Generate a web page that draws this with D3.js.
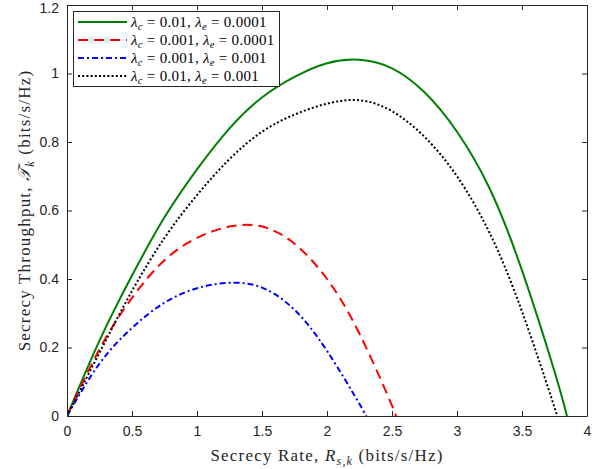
<!DOCTYPE html>
<html>
<head>
<meta charset="utf-8">
<script src="https://cdn.jsdelivr.net/npm/d3@7"></script>
<style>
  html, body { margin: 0; padding: 0; background: #fff; }
  svg { display: block; }
</style>
</head>
<body>
<svg id="chart" width="605" height="469"></svg>
<script>
// Secrecy rate R_{s,k} (bits/s/Hz) and secrecy throughput T_k for each setting
const rateA = [0, 0.25, 0.5, 0.75, 1.0, 1.25, 1.5, 1.75, 2.0, 2.25, 2.5, 2.75, 3.0, 3.25, 3.5, 3.75, 3.846];
const thrA  = [0, 0.22, 0.41, 0.58, 0.72, 0.84, 0.93, 0.99, 1.03, 1.04, 1.015, 0.945, 0.83, 0.665, 0.425, 0.13, 0];

const rateB = [0, 0.25, 0.5, 0.75, 1.0, 1.25, 1.5, 1.75, 2.0, 2.25, 2.5, 2.52];
const thrB  = [0, 0.195, 0.345, 0.455, 0.52, 0.553, 0.553, 0.503, 0.40, 0.24, 0.03, 0];

const rateC = [0, 0.25, 0.5, 0.75, 1.0, 1.25, 1.5, 1.75, 2.0, 2.25, 2.30];
const thrC  = [0, 0.153, 0.257, 0.331, 0.373, 0.389, 0.375, 0.31, 0.19, 0.035, 0];

const rateD = [0, 0.25, 0.5, 0.75, 1.0, 1.25, 1.5, 1.75, 2.0, 2.25, 2.5, 2.75, 3.0, 3.25, 3.5, 3.75, 3.765];
const thrD  = [0, 0.185, 0.365, 0.52, 0.645, 0.75, 0.83, 0.88, 0.912, 0.922, 0.89, 0.815, 0.70, 0.535, 0.305, 0.025, 0];

// Legend parameters: [lambda_c, lambda_e]
const legendParams = [["0.01", "0.0001"], ["0.001", "0.0001"], ["0.001", "0.001"], ["0.01", "0.001"]];

const xTicks = [0, 0.5, 1, 1.5, 2, 2.5, 3, 3.5, 4];
const yTicks = [0, 0.2, 0.4, 0.6, 0.8, 1, 1.2];

const series = [
  { r: rateA, t: thrA, color: "#008000", dash: null, p: legendParams[0] },
  { r: rateB, t: thrB, color: "#ff0000", dash: "10,6", p: legendParams[1] },
  { r: rateC, t: thrC, color: "#0000ff", dash: "6,3,2,3", p: legendParams[2] },
  { r: rateD, t: thrD, color: "#000000", dash: "2,2.2", p: legendParams[3] }
];

const svg = d3.select("#chart");
const m = { left: 67, right: 587, top: 5, bottom: 416 };
const x = d3.scaleLinear().domain([0, 4]).range([m.left, m.right]);
const y = d3.scaleLinear().domain([0, 1.2]).range([m.bottom, m.top]);

const axisColor = "#262626";
const tickFont = "'Liberation Sans', Arial, sans-serif";
const serif = "'Liberation Serif', 'Times New Roman', serif";

// Curves, clipped to the plot box
svg.append("clipPath").attr("id", "plotclip")
  .append("rect").attr("x", m.left).attr("y", m.top)
  .attr("width", m.right - m.left).attr("height", m.bottom - m.top + 1);

const line = d3.line().curve(d3.curveNatural);
const plot = svg.append("g").attr("clip-path", "url(#plotclip)");
series.forEach(s => {
  const pts = s.r.map((r, i) => [x(r), y(s.t[i])]);
  plot.append("path")
    .attr("d", line(pts))
    .attr("fill", "none")
    .attr("stroke", s.color)
    .attr("stroke-width", 2)
    .attr("stroke-dasharray", s.dash)
    .attr("stroke-linejoin", "round");
});

// Axes: bottom/left with labels, top/right with ticks only; ticks point inward
const tl = 5;
const gx = svg.append("g").attr("transform", `translate(0,${m.bottom})`)
  .call(d3.axisBottom(x).tickValues(xTicks).tickSizeInner(-tl).tickSizeOuter(0).tickPadding(10)
    .tickFormat(d => d3.format("")(d)));
const gxt = svg.append("g").attr("transform", `translate(0,${m.top})`)
  .call(d3.axisTop(x).tickValues(xTicks).tickSizeInner(-tl).tickSizeOuter(0).tickFormat(""));
const gy = svg.append("g").attr("transform", `translate(${m.left},0)`)
  .call(d3.axisLeft(y).tickValues(yTicks).tickSizeInner(-tl).tickSizeOuter(0).tickPadding(8)
    .tickFormat(d => d3.format("")(d)));
const gyr = svg.append("g").attr("transform", `translate(${m.right},0)`)
  .call(d3.axisRight(y).tickValues(yTicks).tickSizeInner(-tl).tickSizeOuter(0).tickFormat(""));

[gx, gxt, gy, gyr].forEach(g => {
  g.select(".domain").attr("stroke", axisColor);
  g.selectAll(".tick line").attr("stroke", axisColor);
  g.selectAll(".tick text").attr("fill", axisColor)
    .style("font-family", tickFont).style("font-size", "14px");
});
// keep the top label inside the page
gy.selectAll(".tick text").filter(d => d === 1.2).attr("dy", "0.32em").attr("y", 3);

// Axis labels
const xl = svg.append("text")
  .attr("x", (m.left + m.right) / 2).attr("y", 461)
  .attr("text-anchor", "middle")
  .style("font-family", serif).style("font-size", "17px").style("letter-spacing", "1.2px")
  .attr("fill", axisColor);
xl.append("tspan").text("Secrecy Rate, ");
xl.append("tspan").attr("font-style", "italic").text("R");
xl.append("tspan").attr("font-style", "italic").attr("font-size", "12px").attr("dy", 4).text("s,k");
xl.append("tspan").attr("dy", -4).text(" (bits/s/Hz)");

const yl = svg.append("text")
  .attr("transform", `translate(30,${(m.top + m.bottom) / 2}) rotate(-90)`)
  .attr("text-anchor", "middle")
  .style("font-family", serif).style("font-size", "17px").style("letter-spacing", "1.2px")
  .attr("fill", axisColor);
yl.append("tspan").text("Secrecy Throughput, ");
yl.append("tspan").attr("font-style", "italic").text("\u{1D4AF}");
yl.append("tspan").attr("font-style", "italic").attr("font-size", "12px").attr("dy", 4).text("k");
yl.append("tspan").attr("dy", -4).text(" (bits/s/Hz)");

// Legend
const lg = svg.append("g");
lg.append("rect").attr("x", 73.5).attr("y", 11.5).attr("width", 206).attr("height", 75)
  .attr("fill", "#fff").attr("stroke", axisColor).attr("stroke-width", 1);
series.forEach((s, i) => {
  const yy = 22 + i * 18;
  lg.append("line").attr("x1", 78).attr("x2", 127).attr("y1", yy).attr("y2", yy)
    .attr("stroke", s.color).attr("stroke-width", 2).attr("stroke-dasharray", s.dash);
  const t = lg.append("text").attr("x", 131).attr("y", yy + 5)
    .style("font-family", serif).style("font-size", "15px").style("letter-spacing", "0.3px")
    .attr("fill", "#000");
  t.append("tspan").attr("font-style", "italic").text("λ");
  t.append("tspan").attr("font-style", "italic").attr("font-size", "10.5px").attr("dy", 3).text("c");
  t.append("tspan").attr("dy", -3).text(" = " + s.p[0] + ", ");
  t.append("tspan").attr("font-style", "italic").text("λ");
  t.append("tspan").attr("font-style", "italic").attr("font-size", "10.5px").attr("dy", 3).text("e");
  t.append("tspan").attr("dy", -3).text(" = " + s.p[1]);
});
</script>
</body>
</html>
